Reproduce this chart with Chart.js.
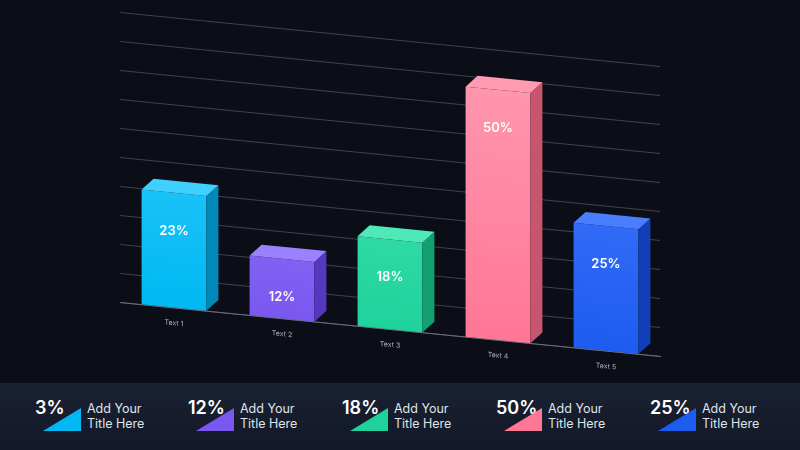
<!DOCTYPE html>
<html>
<head>
<meta charset="utf-8">
<script src="https://cdn.jsdelivr.net/npm/chart.js@4"></script>
<style>
  body { margin:0; width:800px; height:450px; background:#0b0e17; font-family:Inter, "Noto Sans", sans-serif; overflow:hidden; }
  #wrap { position:absolute; left:0; top:0; width:800px; height:383px; }
  #strip { position:absolute; left:0; top:383px; width:800px; height:67px; background:linear-gradient(#1a2132,#121827); display:flex; }
  .item { position:relative; width:154px; margin-left:0; }
  .pct { position:absolute; top:14px; left:0; color:#fff; font-size:18px; font-weight:600; }
  .tri { position:absolute; top:25px; left:8px; width:0; height:0; border-style:solid; border-width:0 0 23px 38px; }
  .ttl { position:absolute; top:18px; left:52px; color:#dfe3ea; font-size:12.5px; line-height:15px; }
</style>
</head>
<body>
<div id="wrap"><canvas id="myChart" width="800" height="383"></canvas></div>
<div id="strip"></div>
<script>
const categories = ['Text 1', 'Text 2', 'Text 3', 'Text 4', 'Text 5'];
const values = [23, 12, 18, 50, 25];
const colors = ['#00b8f2', '#7a58f0', '#1fd29b', '#ff7696', '#1d5cf0'];
const sideColors = ['#0088b8', '#5638c0', '#12a070', '#c85570', '#1240b8'];
const topColors = ['#3fd0ff', '#9b80ff', '#4fe8b8', '#ff9ab2', '#4a7dff'];
const stripValues = ['3%', '12%', '18%', '50%', '25%'];
const stripTitles = ['Add Your', 'Title Here'];

const skew = 0.1, pivotX = 120;

const strip = document.getElementById('strip');
const lefts = [35, 188, 342, 496, 650];
stripValues.forEach(function(v, i) {
    const d = document.createElement('div');
    d.className = 'item';
    d.style.position = 'absolute';
    d.style.left = lefts[i] + 'px';
    d.innerHTML = '<div class="pct">' + v + '</div>' +
        '<div class="tri" style="border-color:transparent transparent ' + colors[i] + ' transparent"></div>' +
        '<div class="ttl">' + stripTitles[0] + '<br>' + stripTitles[1] + '</div>';
    strip.appendChild(d);
});

const skewPlugin = {
    id: 'skew',
    beforeDraw(chart) {
        const ctx = chart.ctx;
        ctx.save();
        ctx.transform(1, skew, 0, 1, 0, -skew * pivotX);
    },
    afterDraw(chart) {
        chart.ctx.restore();
    }
};

const cubePlugin = {
    id: 'cube',
    afterDatasetsDraw(chart) {
        const ctx = chart.ctx;
        const meta = chart.getDatasetMeta(0);
        const dx = 12, dy = -12;
        meta.data.forEach(function(bar, i) {
            const l = bar.x - bar.width / 2, r = bar.x + bar.width / 2;
            const t = bar.y, b = bar.base;
            ctx.fillStyle = sideColors[i];
            ctx.beginPath();
            ctx.moveTo(r, t); ctx.lineTo(r + dx, t + dy); ctx.lineTo(r + dx, b + dy); ctx.lineTo(r, b);
            ctx.closePath(); ctx.fill();
            ctx.fillStyle = topColors[i];
            ctx.beginPath();
            ctx.moveTo(l, t); ctx.lineTo(l + dx, t + dy); ctx.lineTo(r + dx, t + dy); ctx.lineTo(r, t);
            ctx.closePath(); ctx.fill();
            // label, drawn unskewed at the transformed position
            ctx.save();
            ctx.setTransform(1, 0, 0, 1, 0, 0);
            const px = bar.x, py = t + 38 + skew * (bar.x - pivotX);
            ctx.fillStyle = '#ffffff';
            ctx.font = '600 13px Inter';
            ctx.textAlign = 'center';
            ctx.textBaseline = 'middle';
            ctx.fillText(values[i] + '%', px, py);
            ctx.restore();
        });
    }
};

const ctx = document.getElementById('myChart').getContext('2d');
const chart = new Chart(ctx, {
    type: 'bar',
    data: {
        labels: categories,
        datasets: [{
            data: values,
            backgroundColor: function(c) {
                const i = c.dataIndex;
                const a = c.chart.chartArea;
                if (!a) return colors[i];
                const g = c.chart.ctx.createLinearGradient(0, a.top, 0, a.bottom);
                g.addColorStop(0, topColors[i]);
                g.addColorStop(1, colors[i]);
                return g;
            },
            borderWidth: 0,
            barPercentage: 0.6,
            categoryPercentage: 1
        }]
    },
    options: {
        responsive: false,
        animation: false,
        layout: { padding: { left: 120, right: 140, top: 12, bottom: 58 } },
        plugins: { legend: { display: false }, tooltip: { enabled: false } },
        scales: {
            x: {
                grid: { display: false },
                border: { color: '#6a7080' },
                ticks: { color: '#b0b4be', font: { size: 7, family: 'Inter' } }
            },
            y: {
                min: 0, max: 58,
                ticks: { display: false, stepSize: 5.8 },
                grid: { color: 'rgba(200,205,215,0.35)', lineWidth: 0.8, drawTicks: false },
                border: { display: false }
            }
        }
    },
    plugins: [skewPlugin, cubePlugin]
});
</script>
</body>
</html>
